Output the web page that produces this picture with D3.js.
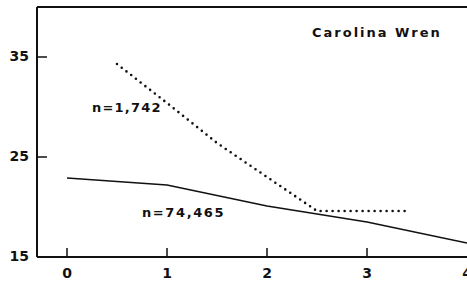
<!DOCTYPE html>
<html>
<head>
<meta charset="utf-8">
<script src="https://cdn.jsdelivr.net/npm/d3@7"></script>
<style>
  html, body { margin: 0; padding: 0; background: #fff; }
  svg { display: block; }
  text { font-family: "DejaVu Sans", sans-serif; font-weight: bold; fill: #111; }
</style>
</head>
<body>
<svg id="chart" width="467" height="283"></svg>
<script>
// ====== DATA ======
const title = 'Carolina Wren';
const xTicks = [0, 1, 2, 3, 4];
const yTicks = [15, 25, 35];

// large sample (solid line)
const solidX = [0, 1, 2, 3, 4];
const solidY = [22.9, 22.2, 20.1, 18.5, 16.4];
const solidLabel = 'n=74,465';

// small sample (dotted line)
const dotX = [0.5, 1, 1.5, 2, 2.5, 3, 3.4];
const dotY = [34.3, 30.4, 26.4, 23.0, 19.6, 19.6, 19.6];
const dotLabel = 'n=1,742';

// ====== CHART ======
const svg = d3.select('#chart');
const plotL = 37, plotT = 7, plotR = 467, plotB = 257;

const x = d3.scaleLinear().domain([0, 4]).range([67, 467]);
const y = d3.scaleLinear().domain([15, 40]).range([plotB, plotT]);

// frame: left axis, top border, bottom axis
svg.append('line')
    .attr('x1', plotL).attr('y1', plotT).attr('x2', plotL).attr('y2', plotB)
    .attr('stroke', '#111').attr('stroke-width', 2);
svg.append('line')
    .attr('x1', plotL).attr('y1', plotT).attr('x2', plotR).attr('y2', plotT)
    .attr('stroke', '#111').attr('stroke-width', 2);
svg.append('line')
    .attr('x1', plotL).attr('y1', plotB).attr('x2', plotR).attr('y2', plotB)
    .attr('stroke', '#111').attr('stroke-width', 2);

// y ticks (inward)
const yAxis = svg.append('g');
yAxis.selectAll('line')
    .data(yTicks.filter(d => d !== 15))
    .enter().append('line')
    .attr('x1', plotL).attr('x2', plotL + 10)
    .attr('y1', d => y(d)).attr('y2', d => y(d))
    .attr('stroke', '#111').attr('stroke-width', 1.5);
yAxis.selectAll('text')
    .data(yTicks)
    .enter().append('text')
    .attr('x', 29)
    .attr('y', d => y(d))
    .attr('text-anchor', 'end')
    .attr('dominant-baseline', 'middle')
    .attr('font-size', 14)
    .text(d => d);

// x ticks (upward)
const xAxis = svg.append('g');
xAxis.selectAll('line')
    .data(xTicks.filter(d => d < 4))
    .enter().append('line')
    .attr('x1', d => x(d)).attr('x2', d => x(d))
    .attr('y1', plotB).attr('y2', plotB - 9)
    .attr('stroke', '#111').attr('stroke-width', 1.5);
xAxis.selectAll('text')
    .data(xTicks)
    .enter().append('text')
    .attr('x', d => x(d))
    .attr('y', 274)
    .attr('text-anchor', 'middle')
    .attr('dominant-baseline', 'middle')
    .attr('font-size', 14)
    .text(d => d);

// lines
const line = d3.line().x(d => x(d[0])).y(d => y(d[1]));

svg.append('path')
    .datum(solidX.map((v, i) => [v, solidY[i]]))
    .attr('d', line)
    .attr('fill', 'none')
    .attr('stroke', '#111')
    .attr('stroke-width', 1.6);

svg.append('path')
    .datum(dotX.map((v, i) => [v, dotY[i]]))
    .attr('d', line)
    .attr('fill', 'none')
    .attr('stroke', '#111')
    .attr('stroke-width', 2.6)
    .attr('stroke-linecap', 'round')
    .attr('stroke-dasharray', '0 6');

// labels
svg.append('text')
    .attr('x', 92).attr('y', 112)
    .attr('font-size', 13)
    .attr('letter-spacing', 1.2)
    .text(dotLabel);

svg.append('text')
    .attr('x', 142).attr('y', 217)
    .attr('font-size', 13)
    .attr('letter-spacing', 1.6)
    .text(solidLabel);

svg.append('text')
    .attr('x', 312).attr('y', 37)
    .attr('font-size', 13)
    .attr('letter-spacing', 2)
    .text(title);
</script>
</body>
</html>
